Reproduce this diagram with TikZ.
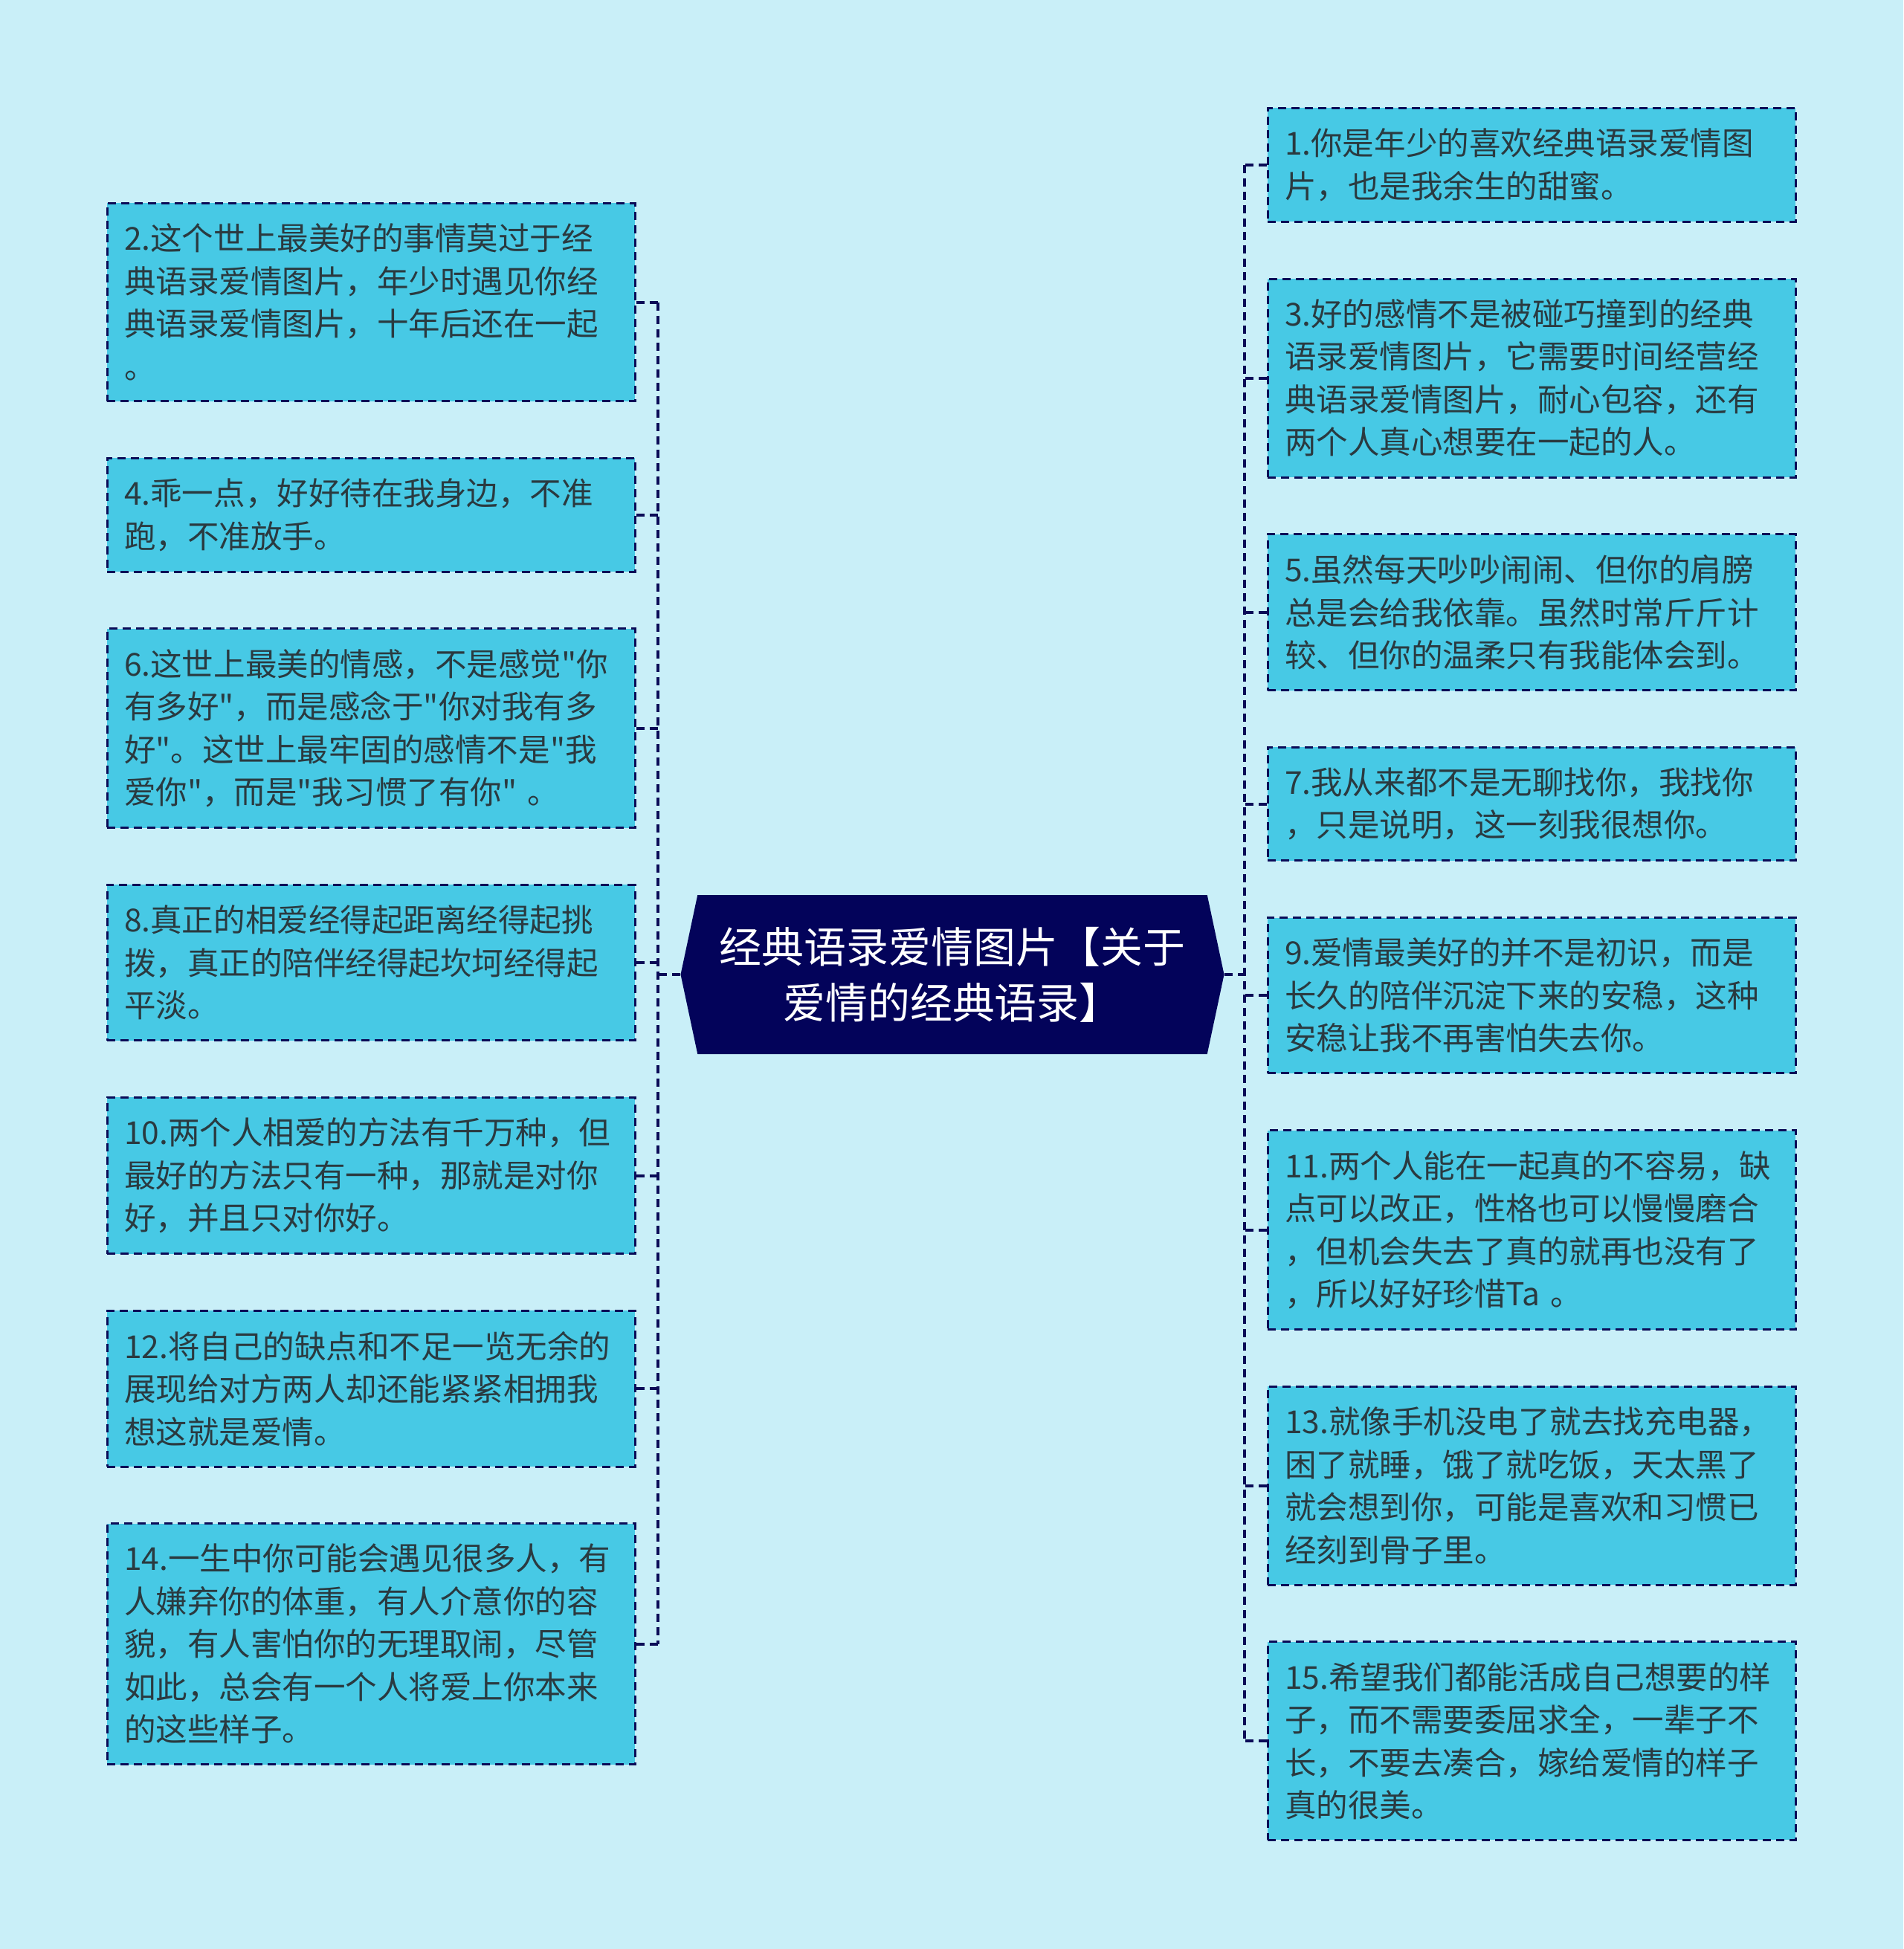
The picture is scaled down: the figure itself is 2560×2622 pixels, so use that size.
\documentclass[tikz,border=0pt]{standalone}
\usepackage{fontspec}
\setmainfont{Noto Sans CJK SC}[Ligatures=TeXOff]
\usetikzlibrary{positioning,shapes.symbols}

\definecolor{bgcol}{HTML}{C9EFF8}
\definecolor{boxcol}{HTML}{47C9E5}
\definecolor{linecol}{HTML}{0B0B57}
\definecolor{hubcol}{HTML}{03035A}
\definecolor{txtcol}{HTML}{2A3A40}

\begin{document}
\begin{tikzpicture}[x=0.1mm,y=-0.1mm,
  saying/.style={draw=linecol,line width=0.3mm,dash pattern=on 1.1mm off 0.7mm,
    fill=boxcol,text=txtcol,text width=66.4mm,inner xsep=2.3mm,inner ysep=2.75mm,
    align=left,font=\fontsize{12.1pt}{16.36pt}\selectfont},
  hub/.style={shape=signal,signal to=east and west,signal pointer angle=156,
    fill=hubcol,text=white,align=center,minimum width=73.1mm,minimum height=21.4mm,
    font=\fontsize{16.2pt}{21.3pt}\selectfont},
  link/.style={draw=linecol,line width=0.4mm,dash pattern=on 1.1mm off 0.7mm},
  node distance=7.36mm]
  \fill[bgcol] (0,0) rectangle (2560,2622);
  \useasboundingbox (0,0) rectangle (2560,2622);

  \node[hub] (main) at (1281,1311) {经典语录爱情图片【关于\\爱情的经典语录】};

  % left column
  \node[saying,anchor=north] (b2) at (499,272) {2.这个世上最美好的事情莫过于经\\典语录爱情图片，年少时遇见你经\\典语录爱情图片，十年后还在一起\\。};
  \node[saying,below=of b2] (b4) {4.乖一点，好好待在我身边，不准\\跑，不准放手。};
  \node[saying,below=of b4] (b6) {6.这世上最美的情感，不是感觉"你\\有多好"，而是感念于"你对我有多\\好"。这世上最牢固的感情不是"我\\爱你"，而是"我习惯了有你" 。};
  \node[saying,below=of b6] (b8) {8.真正的相爱经得起距离经得起挑\\拨，真正的陪伴经得起坎坷经得起\\平淡。};
  \node[saying,below=of b8] (b10) {10.两个人相爱的方法有千万种，但\\最好的方法只有一种，那就是对你\\好，并且只对你好。};
  \node[saying,below=of b10] (b12) {12.将自己的缺点和不足一览无余的\\展现给对方两人却还能紧紧相拥我\\想这就是爱情。};
  \node[saying,below=of b12] (b14) {14.一生中你可能会遇见很多人，有\\人嫌弃你的体重，有人介意你的容\\貌，有人害怕你的无理取闹，尽管\\如此，总会有一个人将爱上你本来\\的这些样子。};

  % right column
  \node[saying,anchor=north] (b1) at (2060,144) {1.你是年少的喜欢经典语录爱情图\\片，也是我余生的甜蜜。};
  \node[saying,below=of b1] (b3) {3.好的感情不是被碰巧撞到的经典\\语录爱情图片，它需要时间经营经\\典语录爱情图片，耐心包容，还有\\两个人真心想要在一起的人。};
  \node[saying,below=of b3] (b5) {5.虽然每天吵吵闹闹、但你的肩膀\\总是会给我依靠。虽然时常斤斤计\\较、但你的温柔只有我能体会到。};
  \node[saying,below=of b5] (b7) {7.我从来都不是无聊找你，我找你\\，只是说明，这一刻我很想你。};
  \node[saying,below=of b7] (b9) {9.爱情最美好的并不是初识，而是\\长久的陪伴沉淀下来的安稳，这种\\安稳让我不再害怕失去你。};
  \node[saying,below=of b9] (b11) {11.两个人能在一起真的不容易，缺\\点可以改正，性格也可以慢慢磨合\\，但机会失去了真的就再也没有了\\，所以好好珍惜Ta 。};
  \node[saying,below=of b11] (b13) {13.就像手机没电了就去找充电器，\\困了就睡，饿了就吃饭，天太黑了\\就会想到你，可能是喜欢和习惯已\\经刻到骨子里。};
  \node[saying,below=of b13] (b15) {15.希望我们都能活成自己想要的样\\子，而不需要委屈求全，一辈子不\\长，不要去凑合，嫁给爱情的样子\\真的很美。};

  % trunks
  \coordinate (lt) at (885,0);
  \coordinate (rt) at (1674,0);
  \draw[link] (lt |- b2.east) -- (lt |- b14.east);
  \draw[link] (rt |- b1.west) -- (rt |- b15.west);
  \draw[link] (main.west) -- (lt |- main.west);
  \draw[link] (main.east) -- (rt |- main.east);
  \foreach \b in {b2,b4,b6,b8,b10,b12,b14}
    \draw[link] (\b.east) -- (lt |- \b.east);
  \foreach \b in {b1,b3,b5,b7,b9,b11,b13,b15}
    \draw[link] (\b.west) -- (rt |- \b.west);
\end{tikzpicture}
\end{document}
